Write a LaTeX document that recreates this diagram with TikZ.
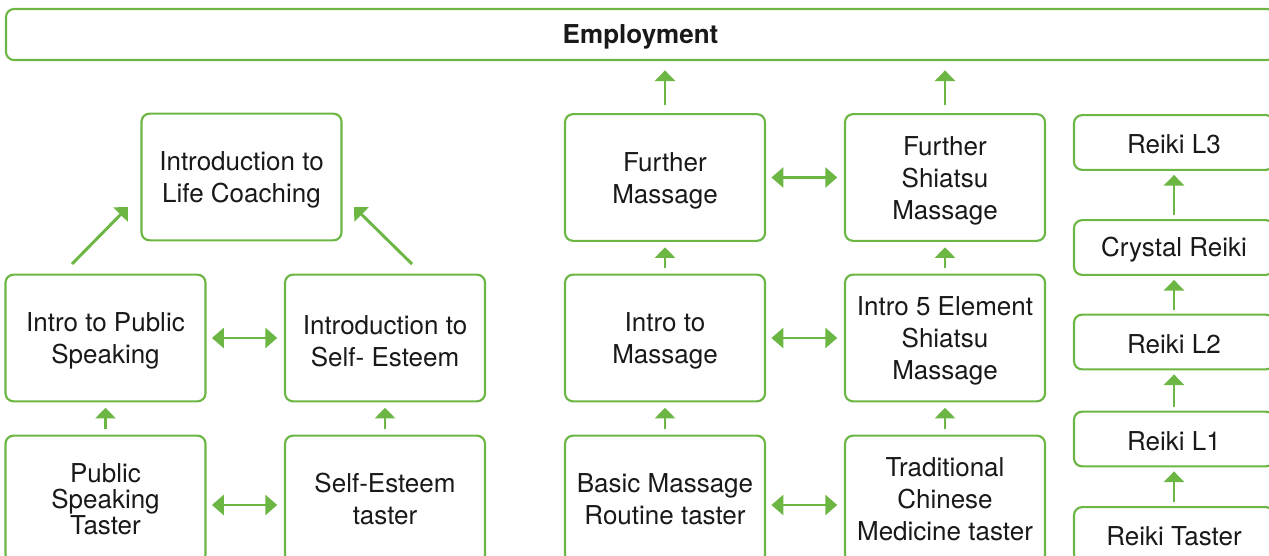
\documentclass[tikz,border=0pt]{standalone}
\usepackage{fontspec}
\setmainfont{TeX Gyre Heros}
\usetikzlibrary{arrows.meta}
\definecolor{grn}{RGB}{108,182,68}
\definecolor{txt}{RGB}{25,25,25}
\newcommand\tu{\rule{0pt}{19pt}}
\newcommand\ts{\rule{0pt}{17.5pt}}
\begin{document}
\begin{tikzpicture}[x=0.75pt,y=-0.75pt,
 box/.style={draw=grn,line width=1.6pt,rounded corners=6pt,fill=white,inner sep=0pt,minimum width=150pt,align=center,text=txt,font=\fontsize{19.5}{24}\selectfont},
 big/.style={box,minimum height=95pt},
 small/.style={box,minimum height=41pt},
 up/.style={draw=grn,line width=2.2pt,-{Triangle[length=8pt,width=15pt]},shorten <=4.5pt,shorten >=4pt},
 both/.style={draw=grn,line width=2.2pt,{Triangle[length=9pt,width=15pt]}-{Triangle[length=9pt,width=15pt]},shorten <=4pt,shorten >=5pt},
]
\useasboundingbox (0,0) rectangle (1269,556);

\node[box,minimum width=951.75pt,minimum height=38.25pt,font=\fontsize{19.5}{24}\selectfont\bfseries] (emp) at (640.5,34.5) {\ts Employment};

\node[big] (lc) at (241.5,177) {\tu Introduction to\\Life Coaching};
\node[big] (ips) at (105.5,338) {\tu Intro to Public\\Speaking};
\node[big] (ise) at (385,338) {\tu Introduction to\\Self- Esteem};
\node[big,font=\fontsize{19.5}{19.5}\selectfont] (pst) at (105.5,499) {Public\\Speaking\\Taster};
\node[big] (set) at (385,499) {Self-Esteem\\taster};

\node[big] (fm) at (665,177.5) {\tu Further\\Massage};
\node[big] (fs) at (945,177.5) {\tu Further\\Shiatsu\\Massage};
\node[big] (im) at (665,338) {\tu Intro to\\Massage};
\node[big] (i5) at (945,338) {\tu Intro 5 Element\\Shiatsu\\Massage};
\node[big] (bm) at (665,499) {Basic Massage\\Routine taster};
\node[big] (tcm) at (945,499) {Traditional\\Chinese\\Medicine taster};

\node[small] (r3) at (1174,142.5) {\ts Reiki L3};
\node[small] (cr) at (1174,247.5) {\ts Crystal Reiki};
\node[small] (r2) at (1174,342) {\ts Reiki L2};
\node[small] (r1) at (1174,439) {\ts Reiki L1};
\node[small] (rt) at (1174,534.5) {\ts Reiki Taster};

% vertical arrows
\draw[up] (pst) -- (ips);
\draw[up] (set) -- (ise);
\draw[up] (bm) -- (im);
\draw[up] (tcm) -- (i5);
\draw[up] (im) -- (fm);
\draw[up] (i5) -- (fs);
\draw[up,shorten <=6pt,shorten >=7pt] (fm.north) -- (fm.north |- emp.south);
\draw[up,shorten <=6pt,shorten >=7pt] (fs.north) -- (fs.north |- emp.south);
\draw[up,shorten <=3pt,shorten >=3pt] (rt) -- (r1);
\draw[up,shorten <=3pt,shorten >=3pt] (r1) -- (r2);
\draw[up,shorten <=3pt,shorten >=3pt] (r2) -- (cr);
\draw[up,shorten <=3pt,shorten >=3pt] (cr) -- (r3);

% double arrows
\draw[both] (pst.east |- 0,505) -- (set.west |- 0,505);
\draw[both] (ips) -- (ise);
\draw[both] (bm.east |- 0,505) -- (tcm.west |- 0,505);
\draw[both] (im) -- (i5);
\draw[both] (fm) -- (fs);

% diagonal arrows
\coordinate (d1s) at (72,264);
\coordinate (d1e) at (128,207);
\coordinate (d2s) at (412,264);
\coordinate (d2e) at (354,207);
\draw[up,shorten <=0pt,shorten >=0pt] (d1s) -- (d1e);
\draw[up,shorten <=0pt,shorten >=0pt] (d2s) -- (d2e);
\end{tikzpicture}
\end{document}
